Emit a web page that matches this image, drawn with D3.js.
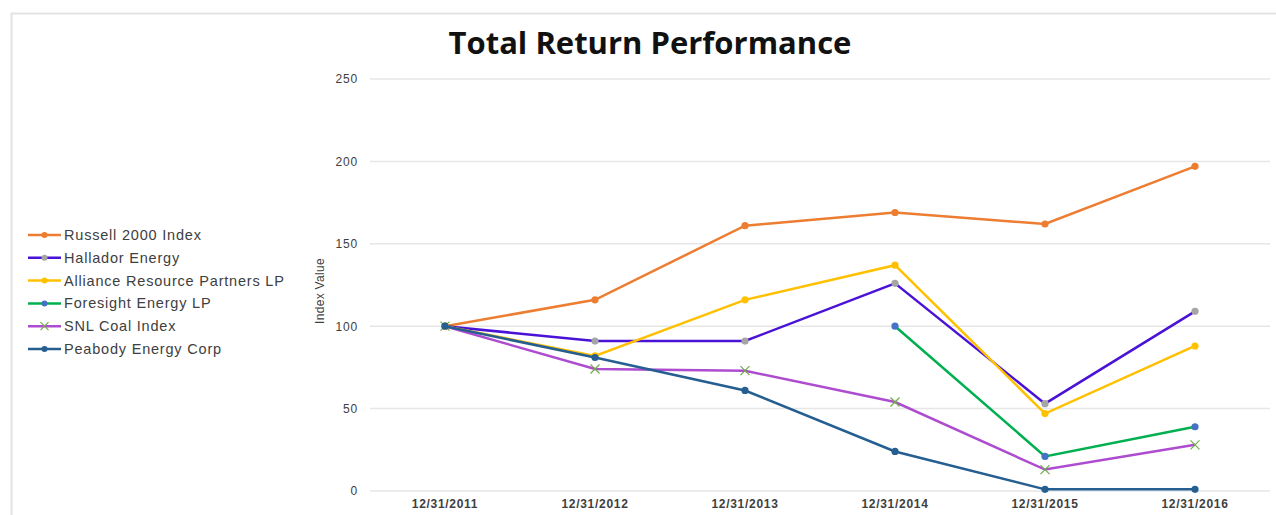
<!DOCTYPE html>
<html>
<head>
<meta charset="utf-8">
<script src="https://cdn.jsdelivr.net/npm/d3@7.9.0/dist/d3.min.js"></script>
<style>
  html, body { margin: 0; padding: 0; background: #fff; }
  svg { display: block; }
</style>
</head>
<body>
<svg id="chart" width="1276" height="515"></svg>
<script>
const dates = ['12/31/2011', '12/31/2012', '12/31/2013', '12/31/2014', '12/31/2015', '12/31/2016'];
const yTicks = [0, 50, 100, 150, 200, 250];

const russell = [100, 116, 161, 169, 162, 197];
const hallador = [100, 91, 91, 126, 53, 109];
const alliance = [100, 82, 116, 137, 47, 88];
const foresight = [null, null, null, 100, 21, 39];
const snlCoal = [100, 74, 73, 54, 13, 28];
const peabody = [100, 81, 61, 24, 1, 1];

const series = [
  { name: 'Russell 2000 Index', values: russell, line: '#ed7d31', marker: '#ed7d31', shape: 'dot' },
  { name: 'Hallador Energy', values: hallador, line: '#4a12d6', marker: '#a5a5a5', shape: 'dot' },
  { name: 'Alliance Resource Partners LP', values: alliance, line: '#ffc000', marker: '#ffc000', shape: 'dot' },
  { name: 'Foresight Energy LP', values: foresight, line: '#00b050', marker: '#4472c4', shape: 'dot' },
  { name: 'SNL Coal Index', values: snlCoal, line: '#ae4cd0', marker: '#70ad47', shape: 'x' },
  { name: 'Peabody Energy Corp', values: peabody, line: '#255e91', marker: '#255e91', shape: 'dot' }
];

const font = 'Liberation Sans, Arial, sans-serif';
const svg = d3.select('#chart');

// light frame around the chart area
svg.append('path')
  .attr('d', 'M11.5,515 V13.5 H1276')
  .attr('fill', 'none')
  .attr('stroke', '#e3e3e3')
  .attr('stroke-width', 2);

const x = d3.scaleBand().domain(dates).range([370, 1270]);
const y = d3.scaleLinear().domain([0, 250]).range([491, 79]);

// gridlines
svg.append('g')
  .selectAll('line')
  .data(yTicks)
  .join('line')
  .attr('x1', 370)
  .attr('x2', 1270)
  .attr('y1', d => y(d))
  .attr('y2', d => y(d))
  .attr('stroke', '#e6e6e6')
  .attr('stroke-width', 1.5);

// y axis labels
const yAxis = svg.append('g')
  .attr('transform', 'translate(358,0)')
  .call(d3.axisLeft(y).tickValues(yTicks).tickSize(0).tickPadding(0));
yAxis.select('.domain').remove();
yAxis.selectAll('text')
  .attr('font-family', font)
  .attr('font-size', 12)
  .attr('letter-spacing', 0.8)
  .attr('fill', '#404040');

// x axis labels
const xAxis = svg.append('g')
  .attr('transform', 'translate(0,499)')
  .call(d3.axisBottom(x).tickSize(0).tickPadding(0));
xAxis.select('.domain').remove();
xAxis.selectAll('text')
  .attr('font-family', font)
  .attr('font-size', 12)
  .attr('font-weight', 'bold')
  .attr('letter-spacing', 0.7)
  .attr('fill', '#404040');

svg.append('text')
  .attr('transform', 'translate(324,291) rotate(-90)')
  .attr('text-anchor', 'middle')
  .attr('font-family', font)
  .attr('font-size', 12)
  .attr('letter-spacing', 0.3)
  .attr('fill', '#404040')
  .text('Index Value');

svg.append('text')
  .attr('x', 650)
  .attr('y', 54)
  .attr('text-anchor', 'middle')
  .attr('font-family', 'Open Sans, sans-serif')
  .attr('font-size', 31)
  .attr('font-weight', 'bold')
  .attr('fill', '#111')
  .text('Total Return Performance');

const cx = d => x(d) + x.bandwidth() / 2;

const line = d3.line()
  .defined(d => d.v !== null)
  .x(d => cx(d.date))
  .y(d => y(d.v));

function drawMarker(g, shape, color, px, py, r) {
  if (shape === 'x') {
    g.append('path')
      .attr('d', `M${px - r},${py - r}L${px + r},${py + r}M${px - r},${py + r}L${px + r},${py - r}`)
      .attr('stroke', color)
      .attr('stroke-width', 1.2)
      .attr('fill', 'none');
  } else {
    g.append('circle')
      .attr('cx', px).attr('cy', py).attr('r', r)
      .attr('fill', color);
  }
}

series.forEach(s => {
  const pts = dates.map((d, i) => ({ date: d, v: s.values[i] }));
  const g = svg.append('g');
  g.append('path')
    .datum(pts)
    .attr('d', line)
    .attr('fill', 'none')
    .attr('stroke', s.line)
    .attr('stroke-width', 2.5);
  pts.filter(p => p.v !== null).forEach(p => {
    drawMarker(g, s.shape, s.marker, cx(p.date), y(p.v), s.shape === 'x' ? 4.5 : 3.6);
  });
});

// legend
const legend = svg.append('g').attr('transform', 'translate(28,235)');
series.forEach((s, i) => {
  const row = legend.append('g').attr('transform', `translate(0,${i * 22.8})`);
  row.append('line')
    .attr('x1', 0).attr('x2', 33)
    .attr('y1', 0).attr('y2', 0)
    .attr('stroke', s.line)
    .attr('stroke-width', 2.5);
  drawMarker(row, s.shape, s.marker, 16.5, 0, s.shape === 'x' ? 4 : 3);
  row.append('text')
    .attr('x', 36)
    .attr('y', 0)
    .attr('dy', '0.35em')
    .attr('font-family', font)
    .attr('font-size', 14.5)
    .attr('letter-spacing', 0.8)
    .attr('fill', '#404040')
    .text(s.name);
});
</script>
</body>
</html>
